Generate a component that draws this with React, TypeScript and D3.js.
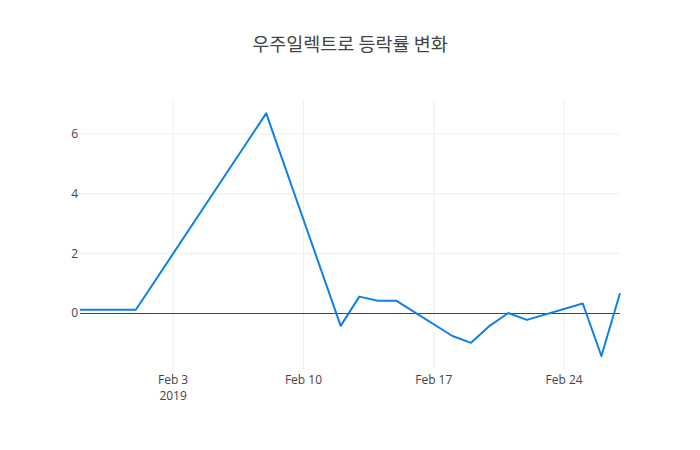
import * as d3 from "d3";
import { useEffect, useRef } from "react";

// 우주일렉트로 daily change (%)
const dates = [
  "2019-01-29", "2019-01-30", "2019-01-31", "2019-02-01", "2019-02-08",
  "2019-02-12", "2019-02-13", "2019-02-14", "2019-02-15", "2019-02-18",
  "2019-02-19", "2019-02-20", "2019-02-21", "2019-02-22", "2019-02-25",
  "2019-02-26", "2019-02-27",
];
const changes = [
  0.11, 0.11, 0.11, 0.11, 6.69,
  -0.43, 0.55, 0.41, 0.41, -0.77,
  -1.0, -0.43, 0.0, -0.23, 0.32,
  -1.44, 0.66,
];
const xTicks = ["2019-02-03", "2019-02-10", "2019-02-17", "2019-02-24"];
const xTickLabels = ["Feb 3", "Feb 10", "Feb 17", "Feb 24"];
const yTicks = [0, 2, 4, 6];

export default function App() {
  const ref = useRef<SVGSVGElement | null>(null);

  useEffect(() => {
    if (!ref.current) return;
    const svg = d3.select(ref.current);
    svg.selectAll("*").remove();

    const width = 700;
    const height = 450;
    const margin = { top: 100, right: 80, bottom: 80, left: 80 };
    const parse = d3.utcParse("%Y-%m-%d");
    const data = dates.map((d, i) => ({ date: parse(d)!, value: changes[i] }));

    const x = d3
      .scaleUtc()
      .domain([data[0].date, data[data.length - 1].date])
      .range([margin.left, width - margin.right]);

    const y = d3
      .scaleLinear()
      .domain([-1.91, 7.14])
      .range([height - margin.bottom, margin.top]);

    const font = "'Open Sans', 'Noto Sans', sans-serif";

    svg.append("rect").attr("width", width).attr("height", height).attr("fill", "#fff");

    // vertical grid
    svg
      .append("g")
      .selectAll("line")
      .data(xTicks)
      .enter()
      .append("line")
      .attr("x1", (d) => x(parse(d)!))
      .attr("x2", (d) => x(parse(d)!))
      .attr("y1", margin.top)
      .attr("y2", height - margin.bottom)
      .attr("stroke", "#eee")
      .attr("stroke-width", 1);

    // horizontal grid
    svg
      .append("g")
      .selectAll("line")
      .data(yTicks.filter((t) => t !== 0))
      .enter()
      .append("line")
      .attr("x1", margin.left)
      .attr("x2", width - margin.right)
      .attr("y1", (d) => y(d))
      .attr("y2", (d) => y(d))
      .attr("stroke", "#eee")
      .attr("stroke-width", 1);

    // zero line
    svg
      .append("line")
      .attr("x1", margin.left)
      .attr("x2", width - margin.right)
      .attr("y1", y(0))
      .attr("y2", y(0))
      .attr("stroke", "#444")
      .attr("stroke-width", 1)
      .attr("shape-rendering", "crispEdges");

    // y tick labels
    svg
      .append("g")
      .selectAll("text")
      .data(yTicks)
      .enter()
      .append("text")
      .attr("x", margin.left - 2)
      .attr("y", (d) => y(d))
      .attr("dy", "0.35em")
      .attr("text-anchor", "end")
      .style("font-family", font)
      .style("font-size", "12px")
      .style("fill", "#444")
      .text((d) => d);

    // x tick labels
    const xt = svg
      .append("g")
      .selectAll("text")
      .data(xTicks)
      .enter()
      .append("text")
      .attr("x", (d) => x(parse(d)!))
      .attr("y", height - margin.bottom + 14)
      .attr("text-anchor", "middle")
      .style("font-family", font)
      .style("font-size", "12px")
      .style("fill", "#444");
    xt.append("tspan").text((d, i) => xTickLabels[i]);
    xt.filter((d, i) => i === 0)
      .append("tspan")
      .attr("x", (d) => x(parse(d)!))
      .attr("dy", 16)
      .text("2019");

    // line
    const line = d3
      .line<{ date: Date; value: number }>()
      .x((d) => x(d.date))
      .y((d) => y(d.value));

    svg
      .append("path")
      .datum(data)
      .attr("d", line)
      .attr("fill", "none")
      .attr("stroke", "rgb(16,127,230)")
      .attr("stroke-width", 2)
      .attr("stroke-linejoin", "round");

    // title
    svg
      .append("text")
      .attr("x", width / 2)
      .attr("y", 51)
      .attr("text-anchor", "middle")
      .style("font-family", "'Noto Sans CJK KR', sans-serif")
      .style("font-size", "18.5px")
      .style("fill", "#444")
      .text("우주일렉트로 등락률 변화");
  }, []);

  return (
    <svg
      ref={ref}
      width={700}
      height={450}
      style={{ position: "absolute", left: 0, top: 0 }}
    />
  );
}
